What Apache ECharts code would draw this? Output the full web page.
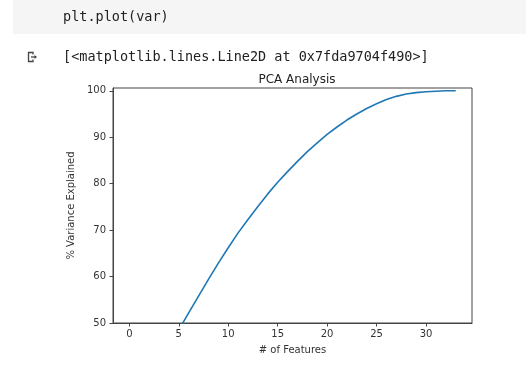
<!DOCTYPE html>
<html>
<head>
<meta charset="utf-8">
<script src="https://cdn.jsdelivr.net/npm/echarts@6/dist/echarts.min.js"></script>
<style>
html,body{margin:0;padding:0;background:#fff;}
#chart{width:526px;height:383px;}
</style>
</head>
<body>
<div id="chart"></div>
<script>
// Data
const features = [0,1,2,3,4,5,6,7,8,9,10,11,12,13,14,15,16,17,18,19,20,21,22,23,24,25,26,27,28,29,30,31,32,33];
const variance = [20.0,30.0,36.5,41.5,45.8,48.5,52.2,55.8,59.4,62.9,66.2,69.4,72.3,75.1,77.8,80.3,82.6,84.8,86.9,88.8,90.6,92.2,93.7,95.0,96.2,97.2,98.1,98.8,99.3,99.6,99.8,99.9,100.0,100.0];
const xTicks = [0,5,10,15,20,25,30];
const yTicks = [50,60,70,80,90,100];
const codeText = 'plt.plot(var)';
const outText = '[<matplotlib.lines.Line2D at 0x7fda9704f490>]';
const titleText = 'PCA Analysis';
const xName = '# of Features';
const yName = '% Variance Explained';

const chart = echarts.init(document.getElementById('chart'), null, {renderer:'canvas'});
const font = 'DejaVu Sans';
const textColor = '#333';
const frame = '#444';

chart.setOption({
  animation: false,
  backgroundColor: '#fff',
  title: {
    text: titleText, left: 292, top: 69, textAlign: 'center',
    textStyle: {fontFamily: font, fontSize: 12, fontWeight: 'normal', color: '#222'}
  },
  grid: {
    left: 113, top: 88, width: 359, height: 235,
    show: true, borderColor: frame, borderWidth: 1, backgroundColor: 'transparent'
  },
  xAxis: [{
    type: 'value', min: -1.65, max: 34.65,
    name: xName, nameLocation: 'middle', nameGap: 22,
    nameTextStyle: {fontFamily: font, fontSize: 10, color: textColor},
    axisLine: {show: true, onZero: true, onZeroAxisIndex: 1, lineStyle: {color: frame, width: 1}},
    axisTick: {show: true, length: 3.5, inside: false, customValues: xTicks, lineStyle: {color: frame, width: 1}},
    axisLabel: {show: true, customValues: xTicks, fontFamily: font, fontSize: 10, color: textColor, margin: 6},
    splitLine: {show: false}
  }, {
    // helper axis spanning the same width, whose zero sits on the left edge
    type: 'value', min: 0, max: 36.3, show: false, position: 'top'
  }],
  yAxis: [{
    type: 'value', min: 50, max: 100.6,
    name: yName, nameLocation: 'middle', nameGap: 36, nameRotate: 90,
    nameTextStyle: {fontFamily: font, fontSize: 10, color: textColor},
    axisLine: {show: true, onZero: true, onZeroAxisIndex: 1, lineStyle: {color: frame, width: 1}},
    axisTick: {show: true, length: 3.5, inside: false, customValues: yTicks, lineStyle: {color: frame, width: 1}},
    axisLabel: {customValues: yTicks, fontFamily: font, fontSize: 10, color: textColor, margin: 7},
    splitLine: {show: false}
  }, {
    // helper axis whose zero sits on the bottom edge
    type: 'value', min: 0, max: 50.6, show: false, position: 'right'
  }],
  series: [{
    type: 'line',
    xAxisIndex: 0, yAxisIndex: 0,
    data: features.map((f, i) => [f, variance[i]]),
    showSymbol: false,
    clip: true,
    lineStyle: {color: '#1f77b4', width: 1.6},
    itemStyle: {color: '#1f77b4'}
  }],
  graphic: [
    {type: 'rect', left: 13, top: 0, shape: {width: 513, height: 34}, style: {fill: '#f5f5f5'}, z: -1},
    {type: 'text', left: 63, top: 10, style: {text: codeText, font: '13.5px "DejaVu Sans Mono"', fill: '#212121'}},
    {type: 'text', left: 63, top: 50, style: {text: outText, font: '13.5px "DejaVu Sans Mono"', fill: '#212121'}},
    {type: 'polyline', shape: {points: [[33,54.5],[33,52.5],[28.5,52.5],[28.5,61.5],[33,61.5],[33,59.5]]}, style: {stroke: '#444', lineWidth: 1.3, fill: null}},
    {type: 'polyline', shape: {points: [[31,57],[36,57]]}, style: {stroke: '#444', lineWidth: 1.3}},
    {type: 'polygon', shape: {points: [[37,57],[34.5,55],[34.5,59]]}, style: {fill: '#444'}}
  ]
});
</script>
</body>
</html>
